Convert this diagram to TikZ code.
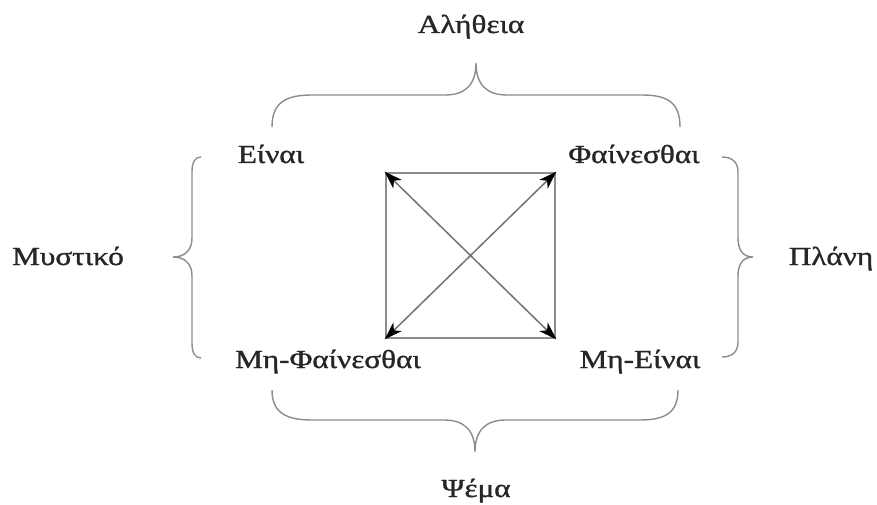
\documentclass[tikz,border=0pt]{standalone}
\usepackage{fontspec}
\setmainfont{Liberation Serif}[FakeStretch=1.2,FakeBold=1.2]
\usetikzlibrary{arrows.meta}
\begin{document}
\begin{tikzpicture}[x=1pt,y=-1pt,
  lbl/.style={font=\fontsize{26}{30}\selectfont, text=black!85, inner sep=0pt, anchor=base},
  bracepath/.style={draw=black!45, line width=1.4pt},
  sqbox/.style={draw=black!45, line width=2.8pt, minimum width=169pt, minimum height=165pt, inner sep=0pt},
  diag/.style={draw=black!55, line width=1.5pt, {Stealth[length=18pt,width=12pt,inset=5pt,black]}-{Stealth[length=18pt,width=12pt,inset=5pt,black]}}]
\useasboundingbox (0,0) rectangle (877,505);
% square with diagonals
\node[sqbox] (sq) at (470.5,255.5) {};
\draw[diag] (sq.north west) -- (sq.south east);
\draw[diag] (sq.north east) -- (sq.south west);
% corner labels
\node[lbl] (einai) at (271,163) {Είναι};
\node[lbl] (fain) at (634,163) {Φαίνεσθαι};
\node[lbl] (mfain) at (328,368) {Μη-Φαίνεσθαι};
\node[lbl] (meinai) at (640,368) {Μη-Είναι};
% side labels
\node[lbl] (alith) at (471,33) {Αλήθεια};
\node[lbl] (psema) at (476,497) {Ψέμα};
\node[lbl] (myst) at (68,265) {Μυστικό};
\node[lbl] (plani) at (831,265) {Πλάνη};
% top brace
\path[bracepath] (272,127) .. controls (272,103) and (285,95) .. (312,95) -- (445,95)
  .. controls (465,95) and (476,85) .. (476,63)
  .. controls (476,85) and (487,95) .. (507,95) -- (642,95)
  .. controls (668,95) and (680,103) .. (680,127);
% bottom brace
\path[bracepath] (272,390) .. controls (272,412) and (285,420) .. (312,420) -- (444,420)
  .. controls (464,420) and (475,430) .. (475,452)
  .. controls (475,430) and (486,420) .. (506,420) -- (640,420)
  .. controls (666,420) and (678,412) .. (678,390);
% left brace
\path[bracepath] (201,157) .. controls (195,157) and (192,162) .. (192,172) -- (192,238)
  .. controls (192,250) and (185,257) .. (173,257)
  .. controls (185,257) and (192,264) .. (192,276) -- (192,343)
  .. controls (192,353) and (195,358) .. (201,358);
% right brace
\path[bracepath] (722,157) .. controls (732,157) and (738,162) .. (738,172) -- (738,238)
  .. controls (738,250) and (743,257) .. (753,257)
  .. controls (743,257) and (738,264) .. (738,276) -- (738,342)
  .. controls (738,352) and (732,357) .. (722,357);
\end{tikzpicture}
\end{document}
